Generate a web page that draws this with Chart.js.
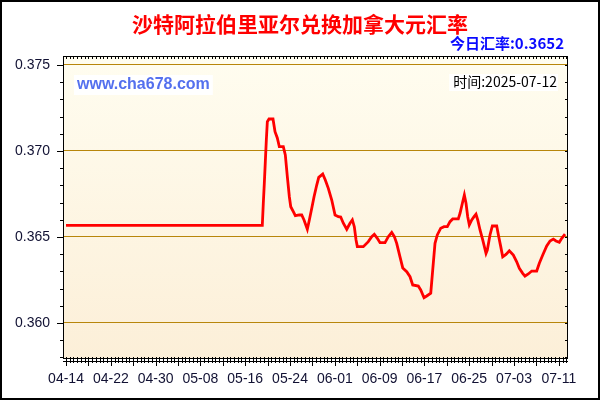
<!DOCTYPE html>
<html lang="zh">
<head>
  <meta charset="UTF-8">
  <title>沙特阿拉伯里亚尔兑换加拿大元汇率</title>
  <script src="https://cdn.jsdelivr.net/npm/chart.js"></script>
  <style>
    html, body { margin: 0; padding: 0; background: #fff; }
    #wrap { width: 600px; height: 400px; }
  </style>
</head>
<body>
<div id="wrap"><canvas id="rateChart" width="600" height="400"></canvas></div>
<script>
  const titleText = '沙特阿拉伯里亚尔兑换加拿大元汇率';
  const todayText = '今日汇率:0.3652';
  const siteText = 'www.cha678.com';
  const dateText = '时间:2025-07-12';

  // x = days since 04-14 (2025)
  const days = [0, 35.05, 35.23, 35.41, 35.59, 35.77, 35.95, 36.25, 36.96, 37.32, 37.73, 38.09, 38.80, 39.16,
    39.52, 39.88, 40.13, 40.59, 40.95, 41.66, 42.09, 42.50, 43.09, 43.45, 43.88, 44.29, 44.77, 45.13,
    45.84, 46.30, 46.84, 47.45, 48.04, 48.63, 49.05, 49.52, 50.13, 50.71, 51.13, 51.48, 51.79, 52.02,
    53.09, 53.98, 54.59, 55.05, 55.59, 56.07, 56.96, 57.55, 58.16, 58.63, 59.05, 59.64, 60.13, 60.84,
    61.43, 61.91, 62.91, 63.34, 63.93, 64.41, 65.13, 65.48, 65.89, 66.30, 66.91, 67.50, 68.09, 68.57,
    69.05, 70.05, 70.36, 70.84, 71.13, 71.43, 71.73, 72.02, 72.45, 72.86, 73.21, 73.52, 73.93, 74.41,
    75.00, 75.23, 75.71, 76.13, 76.91, 77.27, 77.63, 77.98, 78.57, 79.16, 79.88, 80.48, 80.95, 81.55,
    81.96, 82.55, 83.16, 84.05, 84.52, 85.13, 85.84, 86.43, 87.02, 87.50, 88.09, 88.52, 89.11];
  const rates = [0.36568, 0.36568, 0.36696, 0.36812, 0.36938, 0.37064, 0.37170, 0.37186, 0.37186, 0.37112,
    0.37076, 0.37025, 0.37025, 0.36977, 0.36851, 0.36734, 0.36676, 0.36647, 0.36624, 0.36628, 0.36628,
    0.36599, 0.36545, 0.36599, 0.36667, 0.36734, 0.36802, 0.36847, 0.36866, 0.36831, 0.36783, 0.36715,
    0.36628, 0.36618, 0.36616, 0.36580, 0.36545, 0.36580, 0.36599, 0.36560, 0.36483, 0.36444, 0.36444,
    0.36473, 0.36502, 0.36516, 0.36492, 0.36467, 0.36467, 0.36502, 0.36527, 0.36502, 0.36463, 0.36384,
    0.36320, 0.36298, 0.36269, 0.36221, 0.36215, 0.36192, 0.36147, 0.36157, 0.36173, 0.36308, 0.36463,
    0.36512, 0.36551, 0.36560, 0.36560, 0.36589, 0.36605, 0.36605, 0.36638, 0.36705, 0.36744, 0.36696,
    0.36618, 0.36570, 0.36599, 0.36618, 0.36632, 0.36599, 0.36541, 0.36483, 0.36405, 0.36424, 0.36512,
    0.36564, 0.36564, 0.36502, 0.36444, 0.36385, 0.36399, 0.36420, 0.36395, 0.36356, 0.36318, 0.36289,
    0.36273, 0.36285, 0.36302, 0.36302, 0.36347, 0.36395, 0.36448, 0.36477, 0.36488, 0.36477, 0.36469,
    0.36492, 0.36517];

  const tickDays = [0, 8, 16, 24, 32, 40, 48, 56, 64, 72, 80, 88];
  const tickLabels = ['04-14', '04-22', '04-30', '05-08', '05-16', '05-24', '06-01', '06-09', '06-17', '06-25', '07-03', '07-11'];
  const yTicks = [0.360, 0.365, 0.370, 0.375];

  const labelFont = { family: 'Arial, "Liberation Sans", sans-serif', size: 14 };

  // background, frame, tick marks and the texts around the plot
  const decor = {
    id: 'decor',
    beforeDraw(chart) {
      const c = chart.ctx, a = chart.chartArea;
      c.save();
      c.fillStyle = '#fff';
      c.fillRect(0, 0, chart.width, chart.height);
      const g = c.createLinearGradient(0, a.top, 0, a.bottom);
      g.addColorStop(0, '#fffdf0');
      g.addColorStop(1, '#fcefd8');
      c.fillStyle = g;
      c.fillRect(a.left, a.top, a.right - a.left, a.bottom - a.top);
      c.restore();
    },
    beforeDatasetsDraw(chart) {
      const c = chart.ctx;
      c.save();
      c.font = 'bold 16px Arial, "Liberation Sans", sans-serif';
      const w = c.measureText(siteText).width;
      c.fillStyle = '#fff';
      c.fillRect(74, 75, w + 6, 20);
      c.fillStyle = '#5470ee';
      c.textBaseline = 'middle';
      c.fillText(siteText, 77, 85);

      c.font = '14px "Noto Sans CJK SC", "DejaVu Sans", sans-serif';
      const w2 = c.measureText(dateText).width;
      c.fillStyle = '#fff';
      c.fillRect(557 - w2 - 4, 74, w2 + 5, 17);
      c.fillStyle = '#000';
      c.textAlign = 'right';
      c.fillText(dateText, 557, 82);
      c.restore();
    },
    afterDraw(chart) {
      const c = chart.ctx, a = chart.chartArea;
      const xs = chart.scales.x, ys = chart.scales.y;
      c.save();
      c.strokeStyle = '#000';
      c.lineWidth = 1;
      c.strokeRect(a.left + 0.5, a.top + 0.5, a.right - a.left - 1, a.bottom - a.top);

      c.beginPath();
      // y ticks every 0.001
      for (let k = 358; k <= 375; k++) {
        const y = Math.round(ys.getPixelForValue(k / 1000)) + 0.5;
        const major = k % 5 === 0;
        c.moveTo(a.left - (major ? 6 : 3), y);
        c.lineTo(a.left, y);
        c.moveTo(a.right - 3, y);
        c.lineTo(a.right, y);
      }
      // x ticks every 2/3 day, major every 4 days
      for (let k = 0; k <= 134; k++) {
        const x = Math.round(xs.getPixelForValue(k * 2 / 3)) + 0.5;
        const major = k % 6 === 0;
        c.moveTo(x, a.bottom - 1);
        c.lineTo(x, a.bottom + (major ? 8 : 5));
        c.moveTo(x, a.top);
        c.lineTo(x, a.top + 3);
      }
      c.stroke();
      c.beginPath();
      c.moveTo(a.left, a.bottom + 3.5);
      c.lineTo(a.right, a.bottom + 3.5);
      c.stroke();

      // outer frame
      c.lineWidth = 2;
      c.strokeRect(1, 1, chart.width - 2, chart.height - 2);

      c.textBaseline = 'middle';
      c.textAlign = 'center';
      c.fillStyle = '#ff0000';
      c.font = 'bold 21px "Noto Sans CJK SC", sans-serif';
      c.fillText(titleText, 300, 24);

      c.textAlign = 'right';
      c.fillStyle = '#0a0aff';
      c.font = 'bold 15px "Noto Sans CJK SC", sans-serif';
      c.fillText(todayText, 564, 43);
      c.restore();
    }
  };

  new Chart(document.getElementById('rateChart'), {
    type: 'line',
    data: {
      datasets: [{
        data: days.map((d, i) => ({ x: d, y: rates[i] })),
        borderColor: '#ff0000',
        borderWidth: 2.8,
        pointRadius: 0,
        tension: 0,
        fill: false
      }]
    },
    options: {
      responsive: false,
      animation: false,
      layout: { padding: { top: 56, right: 32, left: 0, bottom: 0 } },
      plugins: {
        legend: { display: false },
        tooltip: { enabled: false }
      },
      scales: {
        x: {
          type: 'linear',
          min: -0.54,
          max: 89.64,
          afterBuildTicks: s => { s.ticks = tickDays.map(v => ({ value: v })); },
          afterFit: s => { s.height = 42; },
          ticks: {
            callback: v => tickLabels[tickDays.indexOf(v)],
            color: '#111133',
            font: labelFont,
            maxRotation: 0,
            autoSkip: false,
            padding: 5
          },
          grid: { display: false },
          border: { display: false }
        },
        y: {
          min: 0.357965,
          max: 0.375523,
          afterBuildTicks: s => { s.ticks = yTicks.map(v => ({ value: v })); },
          afterFit: s => { s.width = 63; },
          ticks: {
            callback: v => v.toFixed(3),
            color: '#111133',
            font: labelFont,
            padding: 13
          },
          grid: { color: '#b8860b', lineWidth: 1, drawTicks: false },
          border: { display: false }
        }
      }
    },
    plugins: [decor]
  });
</script>
</body>
</html>
